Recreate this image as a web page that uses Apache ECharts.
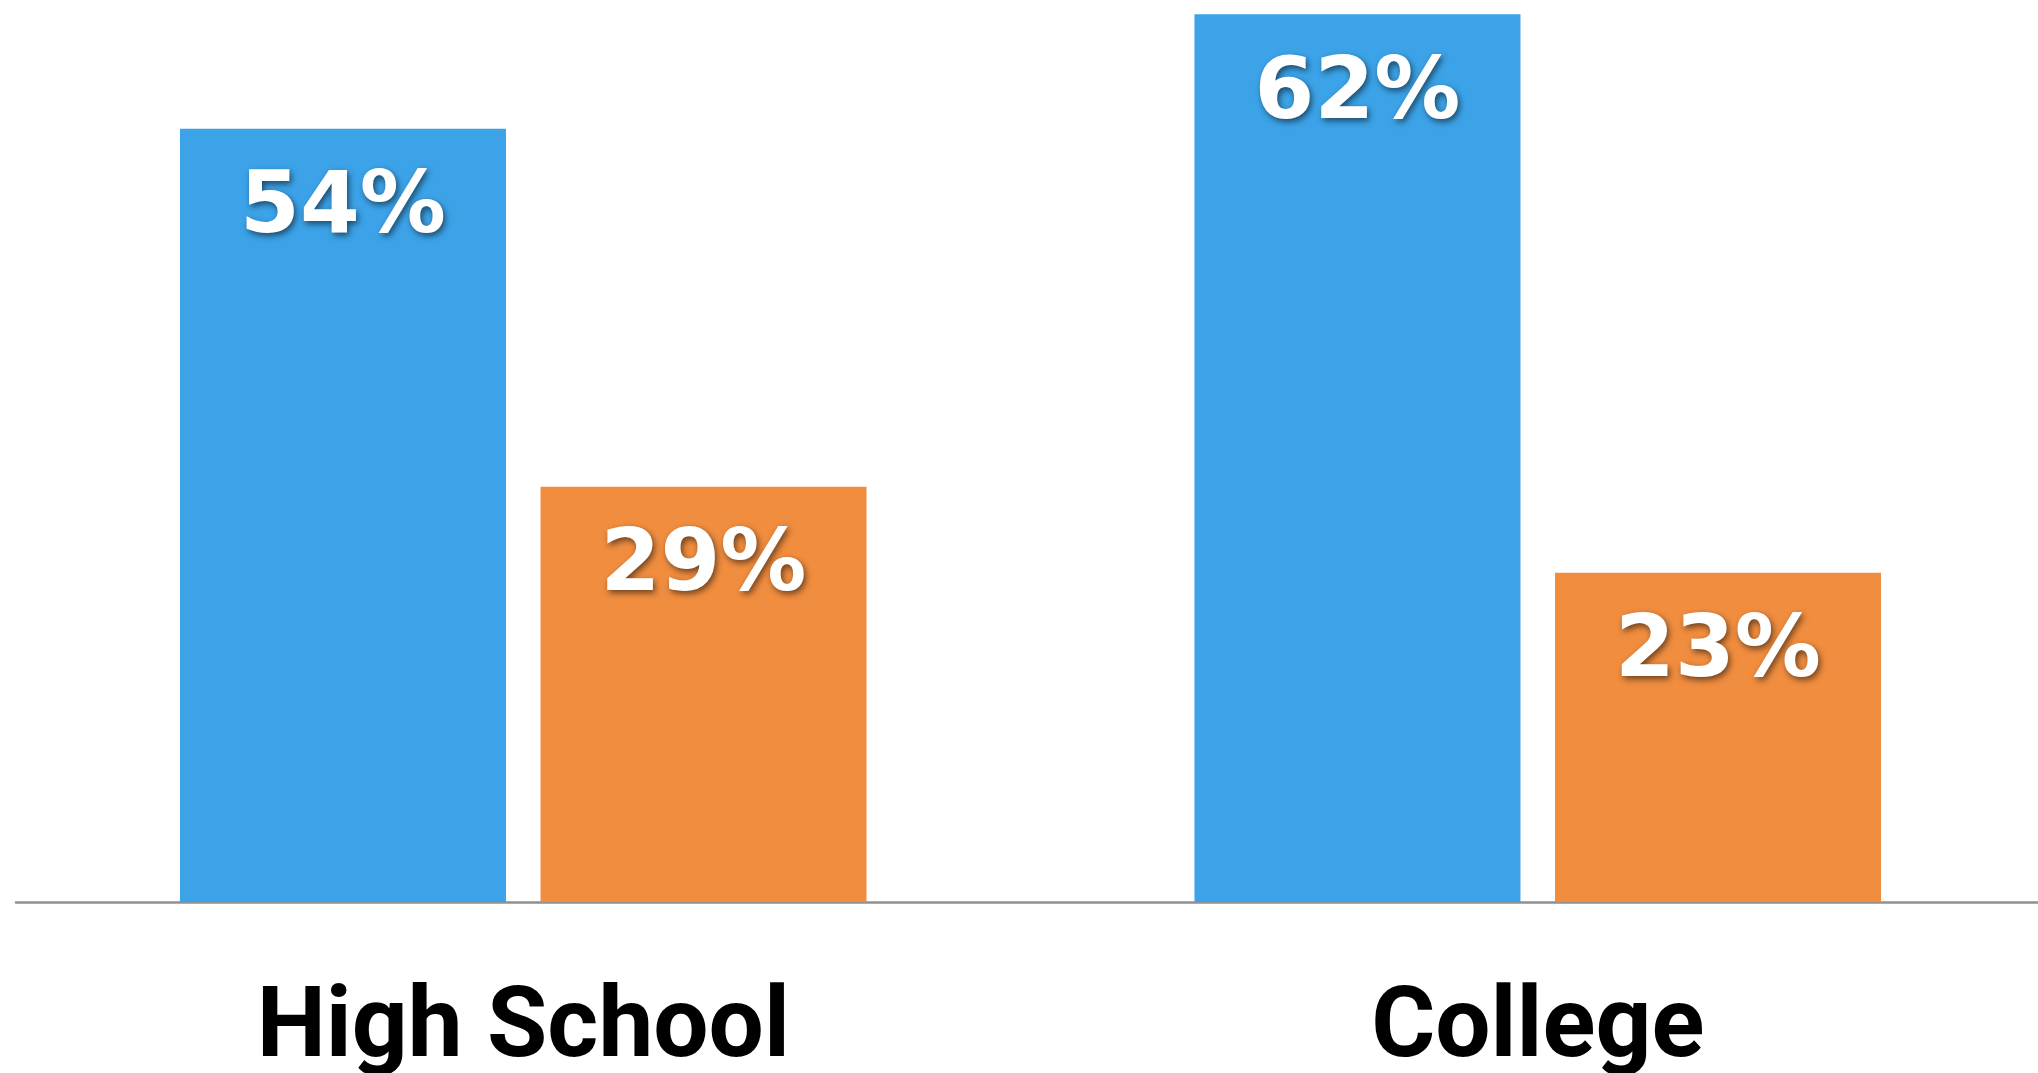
<!DOCTYPE html>
<html>
<head>
<meta charset="utf-8">
<script src="https://cdn.jsdelivr.net/npm/echarts@6/dist/echarts.min.js"></script>
<style>
html,body{margin:0;padding:0;background:#fff;}
#chart{width:2038px;height:1073px;}
</style>
</head>
<body>
<div id="chart"></div>
<script>
const categories = ['High School', 'College'];
const seriesBlue = [54, 62];
const seriesOrange = [29, 23];

const chart = echarts.init(document.getElementById('chart'));
const labelStyle = {
  show: true,
  position: 'insideTop',
  distance: 38,
  color: '#ffffff',
  fontFamily: 'DejaVu Sans',
  fontWeight: 'bold',
  fontSize: 86,
  formatter: p => p.value + '%',
  textShadowColor: 'rgba(0,0,0,0.55)',
  textShadowBlur: 6,
  textShadowOffsetX: 2,
  textShadowOffsetY: 3
};
chart.setOption({
  animation: false,
  grid: {left: 16, right: -7, top: 0, bottom: 171, outerBoundsMode: 'none', containLabel: false},
  xAxis: {
    type: 'category',
    data: categories,
    axisLine: {show: true, lineStyle: {color: '#909090', width: 2.5}},
    axisTick: {show: false},
    axisLabel: {
      margin: 80,
      color: '#000000',
      fontFamily: 'Roboto',
      fontWeight: 'bold',
      fontSize: 98
    }
  },
  yAxis: {
    type: 'value',
    min: 0,
    max: 63,
    show: false,
    splitLine: {show: false}
  },
  series: [
    {
      type: 'bar',
      data: seriesBlue,
      barWidth: 326,
      barGap: '10.6%',
      itemStyle: {color: '#3ca3e8'},
      label: labelStyle
    },
    {
      type: 'bar',
      data: seriesOrange,
      barWidth: 326,
      itemStyle: {color: '#f08d3f'},
      label: labelStyle
    }
  ]
});
</script>
</body>
</html>
